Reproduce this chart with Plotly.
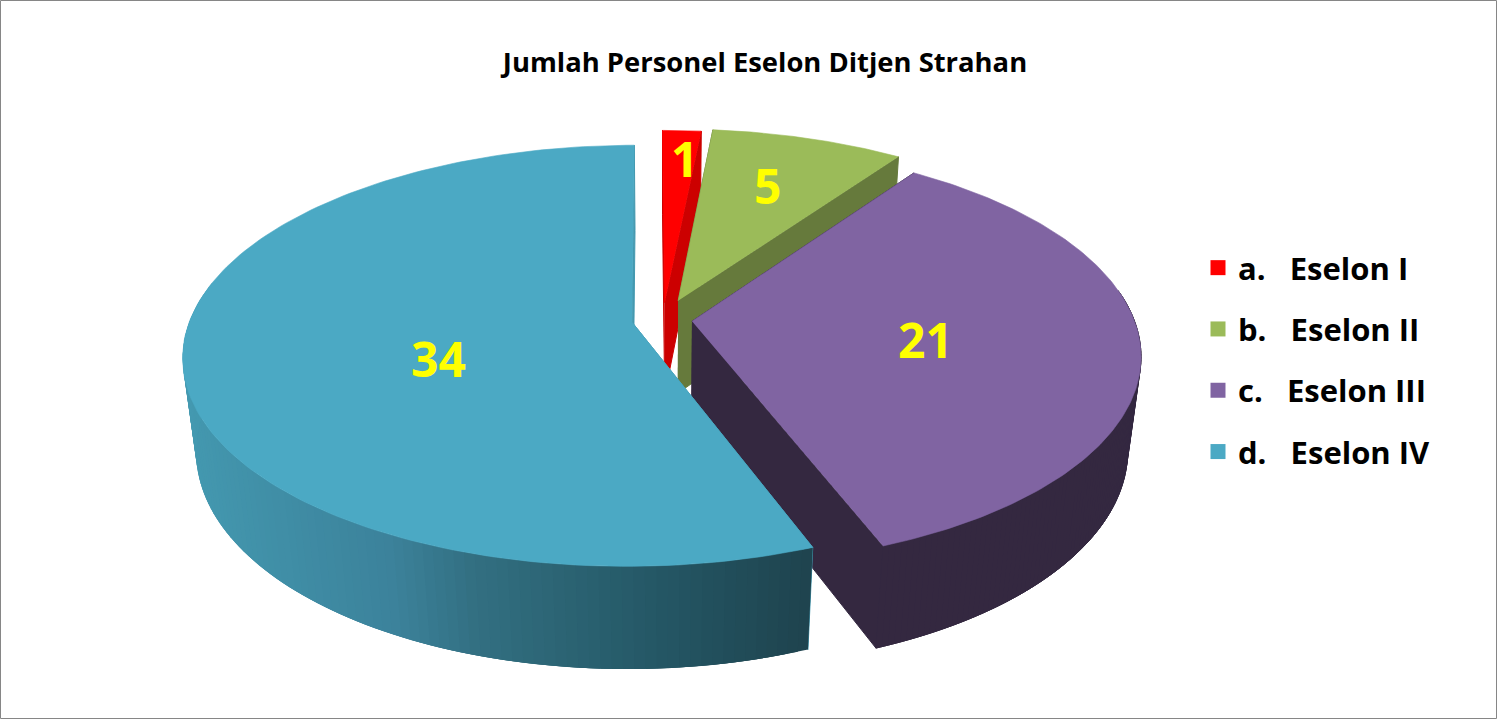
import numpy as np
import plotly.graph_objects as go

# ---- data ----
categories = ["a.", "b.", "c.", "d."]
names = ["Eselon I", "Eselon II", "Eselon III", "Eselon IV"]
values = [1, 5, 21, 34]
title_text = "Jumlah Personel Eselon Ditjen Strahan"

# ---- style / layout ----
top_colors = ["#FF0000", "#9BBB59", "#8064A2", "#4BA9C4"]
side_colors = ["#CC0000", "#667A3C", "#342840", None]
explode = [0.085, 0.10, 0.066, 0.071]
label_pos = [(684, 158), (767, 185), (925, 339), (438, 358)]
legend_gaps = [3, 3, 3, 3]
W, H_PX = 1497, 719
FONT = "Open Sans"
CX, CY, A, B, K = 663, 319.6, 442, 204.4, 0.1587
DEPTH, M = 96, 0.028
FIRST = -0.3
GRAD = [(190, (0x44, 0x99, 0xB0)), (400, (0x3C, 0x82, 0x9B)), (480, (0x33, 0x70, 0x82)),
        (660, (0x25, 0x58, 0x66)), (810, (0x1F, 0x44, 0x4F))]


def project(u, v, z=0.0):
    w = 1 + K * v + M * z
    return CX + A * u / w, CY + (-B * v + DEPTH * z) / w


def slice_points(start, end, ex, n=160):
    mid = np.radians((start + end) / 2)
    ou, ov = ex * np.sin(mid), ex * np.cos(mid)
    t = np.radians(np.linspace(start, end, n))
    return ou, ov, ou + np.sin(t), ov + np.cos(t)


def poly(xs, ys, color, lw=0.6):
    return go.Scatter(x=list(xs), y=list(ys), mode="lines", fill="toself", fillcolor=color,
                      line=dict(color=color, width=lw), hoverinfo="skip", showlegend=False)


def grad_color(x):
    xp = [g[0] for g in GRAD]
    rgb = [np.interp(x, xp, [g[1][i] for g in GRAD]) for i in range(3)]
    return "rgb(%d,%d,%d)" % tuple(rgb)


fig = go.Figure()
total = sum(values)
edges = FIRST + np.concatenate([[0], np.cumsum(values)]) / total * 360

for i in range(len(values)):
    ou, ov, au, av = slice_points(edges[i], edges[i + 1], explode[i])
    tx, ty = project(au, av)
    bx, by = project(au, av, 1)
    ax0, ay0 = project(ou, ov)
    ax1, ay1 = project(ou, ov, 1)
    face = side_colors[i] or grad_color(190)
    # cut faces
    fig.add_trace(poly([ax0, tx[0], bx[0], ax1], [ay0, ty[0], by[0], ay1], face, lw=1))
    fig.add_trace(poly([ax0, tx[-1], bx[-1], ax1], [ay0, ty[-1], by[-1], ay1], face, lw=1))
    # outer wall: overlapping strips so that no seam shows
    front = np.where(av < 0.15)[0]
    if len(front):
        for j in range(front[0], front[-1], 1):
            k = min(j + 3, len(tx) - 1)
            color = side_colors[i] or grad_color((tx[j] + bx[j]) / 2)
            fig.add_trace(poly([tx[j], tx[k], bx[k], bx[j]], [ty[j], ty[k], by[k], by[j]],
                               color, lw=0.8 if side_colors[i] else 0))
    # top face
    fig.add_trace(poly(np.r_[ax0, tx], np.r_[ay0, ty], top_colors[i]))

# legend entries
for i in range(len(values)):
    label = categories[i] + "\u00a0" * legend_gaps[i] + names[i]
    fig.add_trace(go.Scatter(x=[None], y=[None], mode="markers", name=label,
                             legendgroup=str(i), hoverinfo="skip",
                             marker=dict(symbol="square", size=15, color=top_colors[i])))

for (lx, ly), val in zip(label_pos, values):
    fig.add_annotation(x=lx, y=ly, text=str(val), showarrow=False, xanchor="center", yanchor="middle",
                       font=dict(family="Noto Sans", size=48, color="#FFFF00", weight="bold"))

fig.update_layout(
    width=W, height=H_PX, margin=dict(l=0, r=0, t=0, b=0),
    paper_bgcolor="white", plot_bgcolor="white",
    xaxis=dict(range=[0, W], visible=False, fixedrange=True),
    yaxis=dict(range=[H_PX, 0], visible=False, fixedrange=True),
    title=dict(text=title_text, x=765 / W, y=1 - 62 / H_PX, xanchor="center", yanchor="middle",
               font=dict(family=FONT, size=27.4, color="black", weight="bold")),
    legend=dict(x=1198 / W, y=1 - 241 / H_PX, xanchor="left", yanchor="top", tracegroupgap=18,
                bgcolor="rgba(0,0,0,0)", itemclick=False, itemdoubleclick=False,
                font=dict(family=FONT, size=31, color="black", weight="bold")),
    shapes=[dict(type="rect", xref="x", yref="y", x0=0.5, x1=W - 0.5, y0=0.5, y1=H_PX - 0.5,
                 line=dict(color="#868686", width=1), fillcolor="rgba(0,0,0,0)")],
)
fig.write_html("out.html", post_script="document.body.style.margin='0';", config={"displayModeBar": False})
